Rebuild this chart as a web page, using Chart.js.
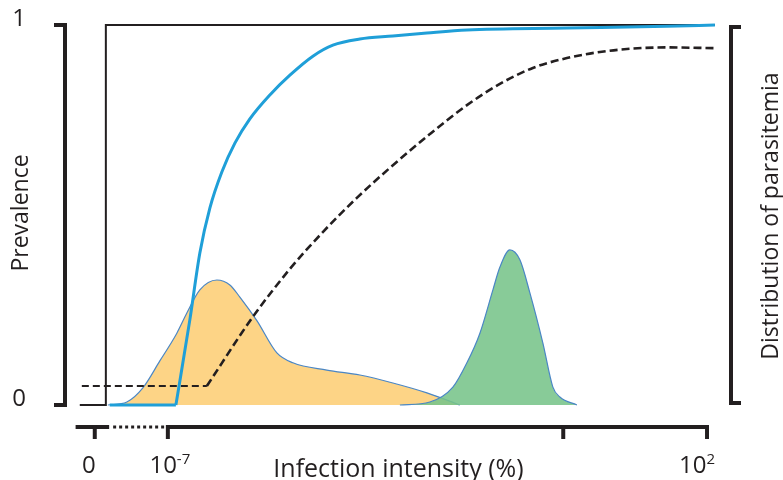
<!DOCTYPE html>
<html><head><meta charset="utf-8">
<script src="https://cdn.jsdelivr.net/npm/chart.js@4.4.1/dist/chart.umd.min.js"></script>
<style>html,body{margin:0;padding:0;background:#fff;overflow:hidden}canvas{display:block}</style>
</head><body>
<canvas id="c" width="783" height="480"></canvas>
<script>
// ---- data (x in log10 intensity units, y in prevalence / relative density 0..1)
const stepX = [-8.47, -8.035, -8.035, 2.13];
const stepY = [0, 0, 1, 1];
const blueFlatX = [-7.97, -6.866];
const blueFlatY = [0, 0];
const blueX = [-6.866, -6.633, -6.466, -6.299, -6.099, -5.881, -5.631, -5.297, -4.963, -4.579, -4.245, -3.795, -3.244, -2.676, -2.008, -0.339, 1.330, 2.132];
const blueY = [0, 0.224, 0.400, 0.518, 0.613, 0.689, 0.753, 0.816, 0.868, 0.918, 0.947, 0.963, 0.971, 0.979, 0.987, 0.992, 0.997, 1.0];
const dashFlatX = [-8.436, -6.349];
const dashFlatY = [0.05, 0.05];
const dashX = [-6.349, -5.581, -4.963, -4.413, -3.845, -3.294, -2.626, -2.008, -1.458, -0.907, -0.339, 0.212, 0.763, 1.330, 2.132];
const dashY = [0.05, 0.232, 0.358, 0.455, 0.545, 0.624, 0.713, 0.789, 0.845, 0.887, 0.913, 0.929, 0.938, 0.941, 0.939];
const orangeX = [-8.002, -7.684, -7.417, -7.134, -6.850, -6.683, -6.466, -6.182, -5.965, -5.798, -5.514, -5.180, -4.913, -4.346, -3.795, -3.244, -2.676, -2.125];
const orangeY = [0, 0.008, 0.045, 0.116, 0.189, 0.242, 0.303, 0.329, 0.316, 0.284, 0.222, 0.137, 0.111, 0.092, 0.079, 0.058, 0.032, 0];
const greenX = [-3.127, -2.626, -2.242, -2.008, -1.791, -1.574, -1.457, -1.291, -1.124, -0.957, -0.740, -0.573, -0.456, -0.172];
const greenY = [0, 0.008, 0.047, 0.111, 0.189, 0.303, 0.363, 0.408, 0.382, 0.295, 0.163, 0.047, 0.021, 0];

// axis ticks
const xTickValues = [-8.22, -7, -0.4, 2];
const xTickBase = ['0', '10', '', '10'];
const xTickSup = ['', '-7', '', '2'];
const yTickValues = [0, 1];
const yTickLabels = ['0', '1'];
const axisBreak = [-7.98, -7.03];
const axisRange = [-8.54, 2.0];
const xTitle = 'Infection intensity (%)';
const yTitle = 'Prevalence';
const y2Title = 'Distribution of parasitemia';

// ---- styles
const labelShift = [-6, 2, 0, -10];
const ink = '#231f20';
const font = 'Open Sans, Noto Sans, sans-serif';

const pts = (xs, ys) => xs.map((v, i) => ({x: v, y: ys[i]}));

const deco = {
  id: 'deco',
  afterDatasetsDraw(chart) {
    const {ctx, chartArea: a, scales: {x, y}} = chart;
    const y1 = y.getPixelForValue(1), y0 = y.getPixelForValue(0);
    ctx.save();
    ctx.strokeStyle = ink; ctx.fillStyle = ink;
    ctx.lineJoin = 'miter'; ctx.lineCap = 'butt';
    // left bracket
    const lx = a.left - 7;
    ctx.lineWidth = 4;
    ctx.beginPath(); ctx.moveTo(lx - 11, y1); ctx.lineTo(lx, y1); ctx.lineTo(lx, y0); ctx.lineTo(lx - 11, y0); ctx.stroke();
    // right bracket
    const rx = a.right + 6;
    ctx.beginPath(); ctx.moveTo(rx + 10, y1 + 2); ctx.lineTo(rx, y1 + 2); ctx.lineTo(rx, y0 - 2); ctx.lineTo(rx + 10, y0 - 2); ctx.stroke();
    // y labels
    ctx.font = '24px ' + font; ctx.textAlign = 'center'; ctx.textBaseline = 'alphabetic';
    yTickValues.forEach((v, i) => {
      ctx.fillText(yTickLabels[i], 19, y.getPixelForValue(v) + 1);
    });
    // y titles
    ctx.font = '23px ' + font; ctx.textBaseline = 'middle';
    ctx.save(); ctx.translate(21, 213); ctx.rotate(-Math.PI / 2); ctx.fillText(yTitle, 0, 0); ctx.restore();
    ctx.save(); ctx.translate(771, 216); ctx.rotate(-Math.PI / 2); ctx.fillText(y2Title, 0, 0); ctx.restore();
    // x axis
    const ya = y0 + 22;
    const p = v => x.getPixelForValue(v);
    ctx.lineWidth = 4;
    ctx.beginPath(); ctx.moveTo(p(axisRange[0]), ya); ctx.lineTo(p(axisBreak[0]), ya);
    ctx.moveTo(p(axisBreak[1]), ya); ctx.lineTo(p(axisRange[1]), ya); ctx.stroke();
    ctx.save(); ctx.lineWidth = 3; ctx.setLineDash([3, 3]);
    ctx.beginPath(); ctx.moveTo(p(axisBreak[0]) + 4, ya); ctx.lineTo(p(axisBreak[1]), ya); ctx.stroke(); ctx.restore();
    ctx.lineWidth = 4;
    xTickValues.forEach(v => {
      const px = p(v);
      ctx.beginPath(); ctx.moveTo(px, ya - 2); ctx.lineTo(px, ya + 12); ctx.stroke();
    });
    // x tick labels
    ctx.textBaseline = 'alphabetic'; ctx.textAlign = 'left';
    xTickValues.forEach((v, i) => {
      if (!xTickBase[i]) return;
      ctx.font = '24px ' + font;
      const bw = ctx.measureText(xTickBase[i]).width;
      ctx.font = '15px ' + font;
      const sw = xTickSup[i] ? ctx.measureText(xTickSup[i]).width : 0;
      const x0 = p(v) + labelShift[i] - (bw + sw) / 2;
      ctx.font = '24px ' + font;
      ctx.fillText(xTickBase[i], x0, 473);
      if (xTickSup[i]) { ctx.font = '15px ' + font; ctx.fillText(xTickSup[i], x0 + bw, 464); }
    });
    ctx.font = '25px ' + font; ctx.textAlign = 'center';
    ctx.fillText(xTitle, (a.left + a.right) / 2, 477);
    ctx.restore();
  }
};

const blue = '#1f9fd8';
const outline = '#4a86c5';
new Chart(document.getElementById('c'), {
  type: 'scatter',
  data: {
    datasets: [
      {data: pts(blueX, blueY), showLine: true, borderColor: blue, borderWidth: 3, pointRadius: 0, cubicInterpolationMode: 'monotone', fill: false, order: 1, clip: false},
      {data: pts(blueFlatX, blueFlatY), showLine: true, borderColor: blue, borderWidth: 3, pointRadius: 0, fill: false, order: 1, clip: false},
      {data: pts(dashX, dashY), showLine: true, borderColor: ink, borderWidth: 2.6, borderDash: [8, 4], pointRadius: 0, cubicInterpolationMode: 'monotone', fill: false, order: 2, clip: false},
      {data: pts(dashFlatX, dashFlatY), showLine: true, borderColor: ink, borderWidth: 2.2, borderDash: [7, 4], pointRadius: 0, fill: false, order: 2, clip: false},
      {data: pts(stepX, stepY), showLine: true, borderColor: ink, borderWidth: 2, pointRadius: 0, fill: false, order: 3, clip: false},
      {data: pts(greenX, greenY), showLine: true, borderColor: outline, borderWidth: 1.2, backgroundColor: 'rgba(120,196,138,0.88)', pointRadius: 0, cubicInterpolationMode: 'monotone', fill: 'origin', order: 4, clip: false},
      {data: pts(orangeX, orangeY), showLine: true, borderColor: outline, borderWidth: 1.2, backgroundColor: '#fdd486', pointRadius: 0, cubicInterpolationMode: 'monotone', fill: 'origin', order: 5, clip: false}
    ]
  },
  options: {
    responsive: false, animation: false, devicePixelRatio: 1,
    layout: {padding: {left: 72, right: 58, top: 25, bottom: 75}},
    scales: {
      x: {type: 'linear', min: -8.6, max: 2.3, display: false},
      y: {type: 'linear', min: 0, max: 1, display: false}
    },
    plugins: {legend: {display: false}, tooltip: {enabled: false}}
  },
  plugins: [deco]
});
</script>
</body></html>
